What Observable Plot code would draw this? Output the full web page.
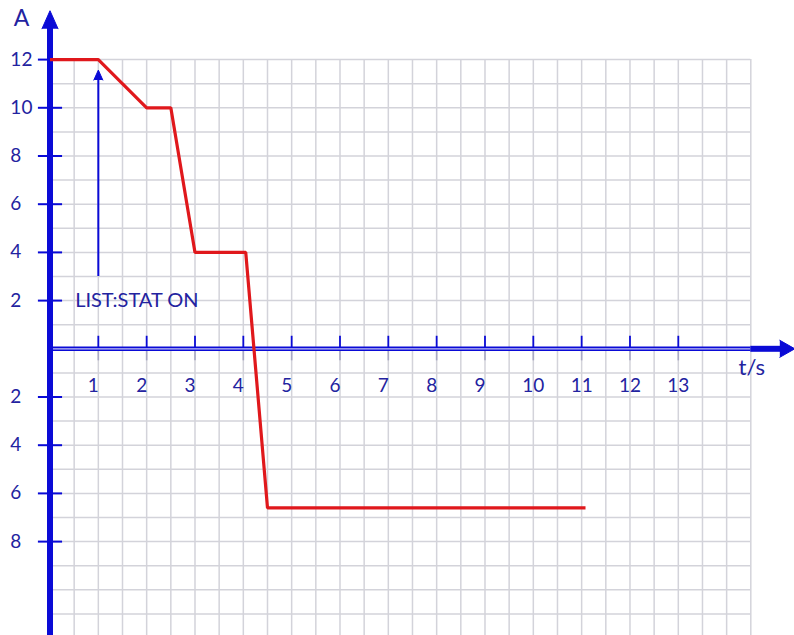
<!DOCTYPE html>
<html>
<head>
<meta charset="utf-8">
<script src="https://cdn.jsdelivr.net/npm/d3@7"></script>
<script src="https://cdn.jsdelivr.net/npm/@observablehq/plot@0.6"></script>
<style>
  html, body { margin: 0; padding: 0; background: #ffffff; }
  #chart svg { display: block; overflow: visible; }
</style>
</head>
<body>
<div id="chart"></div>
<script>
// ---- data ----
const time    = [0, 1, 2, 2.5, 3, 4.05, 4.5, 11.08];
const current = [12, 12, 10, 10, 4, 4, -6.6, -6.6];

const xTickValues = [1, 2, 3, 4, 5, 6, 7, 8, 9, 10, 11, 12, 13];
const xTickLabels = ["1", "2", "3", "4", "5", "6", "7", "8", "9", "10", "11", "12", "13"];
const yTickValues = [12, 10, 8, 6, 4, 2, -2, -4, -6, -8];
const yTickLabels = ["12", "10", "8", "6", "4", "2", "2", "4", "6", "8"];

const yAxisTitle = "A";
const xAxisTitle = "t/s";
const annotationText = "LIST:STAT ON";
const annotationAt = {t: 1, from: 3, to: 11.15};

// ---- styling ----
const BLUE = "#0a0ad6";
const TEXT = "#2323a0";
const RED = "#e0181c";
const GRID = "#d3d3da";
const FONT = "Lato, 'Open Sans', sans-serif";

const xDomain = [-1.0242, 15.404];
const yDomain = [-11.896, 14.452];
const gridRight = 14.5, gridTop = 12;

const points = time.map((t, i) => ({t, a: current[i]}));
const xTicks = xTickValues.map((v, i) => ({v, label: xTickLabels[i]}));
const yTicks = yTickValues.map((v, i) => ({v, label: yTickLabels[i]}));
const vGrid = d3.range(0.5, gridRight + 0.01, 0.5);
const hGrid = d3.range(-11, gridTop + 0.01, 1).filter(v => v !== 0);

const chart = Plot.plot({
  width: 794,
  height: 635,
  margin: 0,
  x: {domain: xDomain, axis: null},
  y: {domain: yDomain, axis: null},
  style: {background: "#ffffff", fontFamily: FONT},
  marks: [
    // grid paper
    Plot.ruleX(vGrid, {x: d => d, y1: yDomain[0], y2: gridTop, stroke: GRID, strokeWidth: 1.5}),
    Plot.ruleY(hGrid, {y: d => d, x1: 0, x2: gridRight, stroke: GRID, strokeWidth: 1.5}),
    // darker tick stubs below the x axis
    Plot.ruleX(xTicks, {x: "v", y1: -0.05, y2: -0.5, stroke: "#a8a8c4", strokeWidth: 1.6}),
    // x axis: double line inside the grid, thick outside
    Plot.ruleY([0], {x1: 0, x2: gridRight, stroke: BLUE, strokeWidth: 4.4}),
    Plot.ruleY([0], {x1: 0, x2: gridRight, stroke: "#c4c4f4", strokeWidth: 1.3}),
    Plot.ruleY([0], {x1: gridRight, x2: 15.12, stroke: BLUE, strokeWidth: 6}),
    Plot.vector([0], {x: 15.1, y: 0, length: 15, r: 8.5, rotate: 90, shape: "spike", anchor: "start", fill: BLUE, stroke: BLUE, strokeWidth: 1}),
    // x ticks (above the axis)
    Plot.ruleX(xTicks, {x: "v", y1: 0.05, y2: 0.52, stroke: BLUE, strokeWidth: 1.8}),
    // y axis
    Plot.ruleX([0], {x: 0, y1: yDomain[0], y2: 13.3, stroke: BLUE, strokeWidth: 6}),
    Plot.vector([0], {x: 0, y: 13.28, length: 18, r: 8, rotate: 0, shape: "spike", anchor: "start", fill: BLUE, stroke: BLUE, strokeWidth: 1}),
    Plot.ruleY(yTicks, {y: "v", x1: -0.24, x2: 0.26, stroke: BLUE, strokeWidth: 2}),
    // tick labels
    Plot.text(yTicks, {x: -0.82, y: "v", text: "label", textAnchor: "start", fill: TEXT, fontSize: 19, fontFamily: FONT}),
    Plot.text(xTicks.filter(d => d.v < 10), {x: "v", y: -1.56, text: "label", dx: -5, textAnchor: "middle", fill: TEXT, fontSize: 19, fontFamily: FONT}),
    Plot.text(xTicks.filter(d => d.v >= 10), {x: "v", y: -1.56, text: "label", dx: 0, textAnchor: "middle", fill: TEXT, fontSize: 19, fontFamily: FONT}),
    // axis titles
    Plot.text([yAxisTitle], {x: -0.59, y: 13.72, text: d => d, textAnchor: "middle", fill: TEXT, fontSize: 23, fontFamily: FONT}),
    Plot.text([xAxisTitle], {x: 14.52, y: -0.78, text: d => d, textAnchor: "middle", fill: TEXT, fontSize: 22, fontFamily: FONT}),
    // annotation arrow and text
    Plot.ruleX([annotationAt], {x: "t", y1: "from", y2: "to", stroke: BLUE, strokeWidth: 2}),
    Plot.vector([annotationAt], {x: "t", y: "to", length: 10, r: 4.5, rotate: 0, shape: "spike", anchor: "start", fill: BLUE, stroke: BLUE, strokeWidth: 1}),
    Plot.text([annotationText], {x: 0.52, y: 2.0, text: d => d, textAnchor: "start", fill: TEXT, fontSize: 20, fontFamily: FONT}),
    // the current trace
    Plot.line(points, {x: "t", y: "a", stroke: RED, strokeWidth: 3.2, strokeLinejoin: "miter", strokeLinecap: "butt"})
  ]
});
document.getElementById("chart").appendChild(chart);
</script>
</body>
</html>
